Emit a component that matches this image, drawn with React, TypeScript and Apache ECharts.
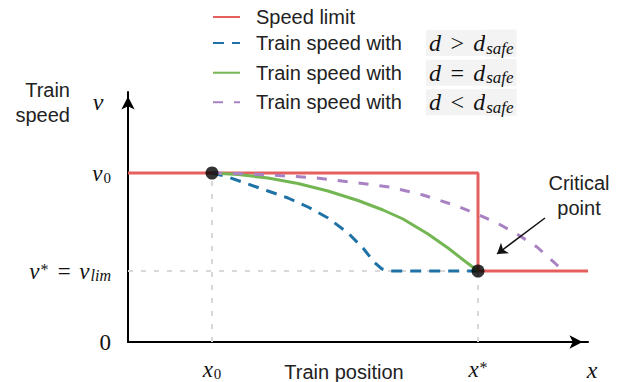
import React, { useEffect, useRef } from 'react';
import * as echarts from 'echarts';

// ---- values (x: position units, y: speed units) ----
const X0 = 8.4;
const X_STAR = 35.0;
const X_END = 46.0;
const X_MAX = 46;
const V0 = 16.9;
const V_LIM = 7.1;
const Y_MAX = 25;

const seriesNames = [
  'Speed limit',
  'Train speed with d > d_safe',
  'Train speed with d = d_safe',
  'Train speed with d < d_safe',
];
const legendRelations = ['', '>', '=', '<'];

const speedLimit = [[0, V0], [X_STAR, V0], [X_STAR, V_LIM], [X_END, V_LIM]];
const speedAbove = [
  [8.4, 16.9], [10, 16.5], [12, 15.8], [14, 15.1], [16, 14.4], [18, 13.5], [20, 12.4],
  [22, 10.9], [23.5, 9.4], [24.6, 8.0], [25.4, 7.3], [26.0, 7.1], [35.0, 7.1],
];
const speedEqual = [
  [8.4, 16.9], [11, 16.75], [14, 16.4], [17, 15.85], [20, 15.1], [23, 14.15], [25.5, 13.2],
  [27.5, 12.3], [30, 10.8], [32, 9.4], [33.8, 8.0], [35.0, 7.1],
];
const speedBelow = [
  [8.4, 16.9], [12.2, 16.8], [15.9, 16.6], [18.9, 16.4], [22.2, 16.0], [26.2, 15.5], [29.5, 14.7],
  [32.9, 13.6], [34.9, 12.8], [36.9, 11.9], [38.9, 10.8], [40.9, 9.5], [42.9, 7.7], [43.4, 7.1],
];
const criticalPoints = [[X0, V0], [X_STAR, V_LIM]];
const guideLimit = [[0, V_LIM], [X_STAR, V_LIM]];
const guideX0 = [[X0, 0], [X0, V0]];
const guideXStar = [[X_STAR, 0], [X_STAR, V_LIM]];
const arrowFrom = [41.7, 12.4];
const arrowTo = [36.9, 8.8];

const colors = ['#e4605e', '#1f72a6', '#74b653', '#a882c2'];

const SERIF = '"Liberation Serif", "DejaVu Serif", serif';
const SANS = '"Liberation Sans", Arial, sans-serif';
const INK = '#111';
const TEXT = '#222';

const mathRich: any = {
  m: { fontFamily: SERIF, fontStyle: 'italic', fontSize: 23, color: INK, height: 26, lineHeight: 26 },
  n: { fontFamily: SERIF, fontSize: 23, color: INK, height: 26, lineHeight: 26 },
  sub: { fontFamily: SERIF, fontSize: 15, color: INK, height: 15, lineHeight: 26, padding: [9, 0, 0, 1] },
  subi: { fontFamily: SERIF, fontStyle: 'italic', fontSize: 16, color: INK, height: 16, lineHeight: 26, padding: [9, 0, 0, 1] },
  sup: { fontFamily: SERIF, fontSize: 16, color: INK, lineHeight: 26, padding: [0, 0, 4, 1] },
};

const BG = '#f3f3f3';
const legendRich: any = {
  t: { fontFamily: SANS, fontSize: 20, color: TEXT, lineHeight: 26, padding: [0, 0, 0, 11] },
  g: { width: 24, lineHeight: 26 },
  m: { fontFamily: SERIF, fontStyle: 'italic', fontSize: 24, color: INK, height: 26, lineHeight: 26, backgroundColor: BG, padding: [0, 0, 0, 3] },
  s: { fontFamily: SERIF, fontStyle: 'italic', fontSize: 17, color: INK, height: 17, lineHeight: 26, backgroundColor: BG, padding: [10, 3, 0, 1] },
};

const near = (a: number, b: number) => Math.abs(a - b) < 1e-6;

export default function App() {
  const ref = useRef<HTMLDivElement>(null);

  useEffect(() => {
    document.body.style.margin = '0';
    if (!ref.current) return;
    const chart = echarts.init(ref.current, null, { renderer: 'svg' });

    const lineBase = (name: string, data: number[][], color: string, type: any, z: number) => ({
      name,
      type: 'line',
      data,
      symbol: 'none',
      showSymbol: false,
      smooth: false,
      clip: false,
      z,
      lineStyle: { color, width: 3, type, cap: 'butt' },
      itemStyle: { color },
      silent: true,
    });

    const guide = (name: string, data: number[][]) => ({
      name,
      type: 'line',
      data,
      symbol: 'none',
      z: 1,
      silent: true,
      lineStyle: { color: '#d8d8d8', width: 2, type: [5, 8] },
    });

    const option: any = {
      animation: false,
      grid: { left: 128, top: 92, width: 460, height: 250, containLabel: false, outerBoundsMode: 'none' },
      legend: {
        data: seriesNames,
        orient: 'vertical',
        left: 212,
        top: 7,
        padding: 0,
        itemGap: 2.6,
        itemWidth: 27,
        itemHeight: 14,
        selectedMode: false,
        itemStyle: { opacity: 0, borderWidth: 0 },
        formatter: (name: string) => {
          const i = seriesNames.indexOf(name);
          if (i <= 0) return '{t|Speed limit}';
          return `{t|Train speed with}{g| }{m|d\u2004${legendRelations[i]}\u2004d}{s|safe}`;
        },
        textStyle: { rich: legendRich },
      },
      xAxis: {
        type: 'value',
        min: 0,
        max: X_MAX,
        axisLine: {
          show: true,
          onZero: false,
          symbol: ['none', 'arrow'],
          symbolSize: [10, 13],
          symbolOffset: [0, -5.5],
          lineStyle: { color: '#000', width: 2 },
        },
        axisTick: { show: false },
        splitLine: { show: false },
        axisLabel: {
          show: true,
          customValues: [X0, X_STAR],
          margin: 14,
          formatter: (v: number) => (near(v, X0) ? '{m|x}{sub|0}' : '{m|x}{sup|*}'),
          rich: mathRich,
        },
      },
      yAxis: {
        type: 'value',
        min: 0,
        max: Y_MAX,
        axisLine: {
          show: true,
          onZero: false,
          symbol: ['none', 'arrow'],
          symbolSize: [10, 13],
          symbolOffset: [0, -4.5],
          lineStyle: { color: '#000', width: 2 },
        },
        axisTick: { show: false },
        splitLine: { show: false },
        axisLabel: {
          show: true,
          customValues: [0, V_LIM, V0],
          margin: 17,
          formatter: (v: number) => {
            if (near(v, 0)) return '{n|0}';
            if (near(v, V_LIM)) return '{m|v}{sup|*}{m|\u2004=\u2004v}{subi|lim}';
            return '{m|v}{sub|0}';
          },
          rich: mathRich,
        },
      },
      series: [
        guide('guide-limit', guideLimit),
        guide('guide-x0', guideX0),
        guide('guide-xstar', guideXStar),
        lineBase(seriesNames[0], speedLimit, colors[0], 'solid', 3),
        lineBase(seriesNames[1], speedAbove, colors[1], [11, 8], 4),
        lineBase(seriesNames[2], speedEqual, colors[2], 'solid', 4),
        lineBase(seriesNames[3], speedBelow, colors[3], [10, 11], 4),
        {
          name: 'critical',
          type: 'scatter',
          data: criticalPoints,
          symbolSize: 13,
          itemStyle: { color: '#000' },
          z: 10,
          silent: true,
          markLine: {
            silent: true,
            symbol: ['none', 'arrow'],
            symbolSize: 10,
            label: { show: false },
            lineStyle: { color: '#111', width: 1.5, type: 'solid' },
            data: [[{ coord: arrowFrom }, { coord: arrowTo }]],
          },
        },
      ],
      graphic: [
        {
          type: 'text',
          style: {
            text: 'Train\nspeed', x: 70, y: 102.5, font: `20px ${SANS}`, fill: TEXT,
            align: 'right', textAlign: 'right', verticalAlign: 'middle', textVerticalAlign: 'middle', lineHeight: 25,
          },
        },
        {
          type: 'text',
          style: {
            text: 'Train position', x: 344, y: 372, font: `20px ${SANS}`, fill: TEXT,
            align: 'center', textAlign: 'center', verticalAlign: 'middle', textVerticalAlign: 'middle',
          },
        },
        {
          type: 'text',
          style: {
            text: 'Critical\npoint', x: 579, y: 195.5, font: `20px ${SANS}`, fill: TEXT,
            align: 'center', textAlign: 'center', verticalAlign: 'middle', textVerticalAlign: 'middle', lineHeight: 25,
          },
        },
        {
          type: 'text',
          style: {
            text: 'v', x: 98, y: 102, font: `italic 24px ${SERIF}`, fill: INK,
            align: 'center', textAlign: 'center', verticalAlign: 'middle', textVerticalAlign: 'middle',
          },
        },
        {
          type: 'text',
          style: {
            text: 'x', x: 592, y: 370, font: `italic 24px ${SERIF}`, fill: INK,
            align: 'center', textAlign: 'center', verticalAlign: 'middle', textVerticalAlign: 'middle',
          },
        },
      ],
    };

    chart.setOption(option);
    return () => chart.dispose();
  }, []);

  return <div ref={ref} style={{ width: 624, height: 382 }} />;
}
